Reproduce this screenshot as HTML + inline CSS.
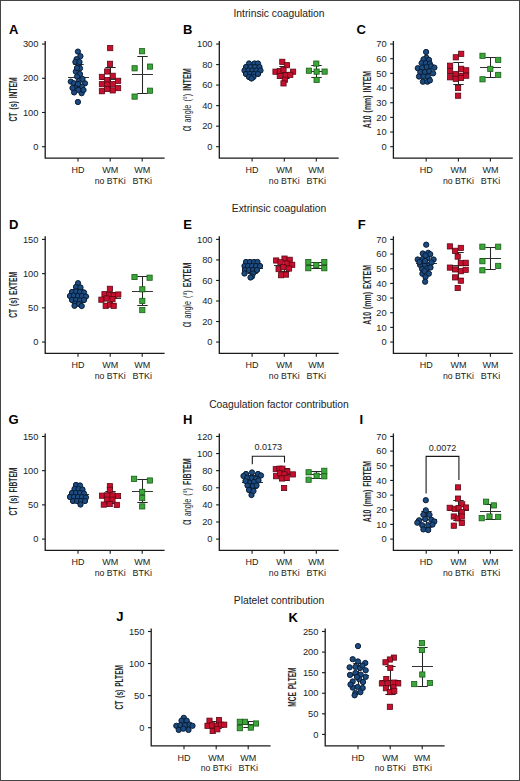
<!DOCTYPE html>
<html><head><meta charset="utf-8"><style>
html,body{margin:0;padding:0;background:#fff;}
svg{display:block;}
text{font-family:"Liberation Sans",sans-serif;fill:#222;}
.tk{font-size:9.3px;}
.xl{font-size:9px;}
.lt{font-size:13px;font-weight:bold;fill:#000;}
.yl{font-size:10.6px;fill:#2a2a2a;}
.yl .b{font-weight:bold;}
.ti{font-size:10.3px;fill:#222;}
.pv{font-size:9px;}
</style></head><body>
<svg width="520" height="781" viewBox="0 0 520 781">
<rect x="0" y="0" width="520" height="781" fill="#fff"/>
<text x="279" y="16.8" class="ti" text-anchor="middle">Intrinsic coagulation</text>
<text x="279" y="211.9" class="ti" text-anchor="middle">Extrinsic coagulation</text>
<text x="279" y="408.0" class="ti" text-anchor="middle">Coagulation factor contribution</text>
<text x="279" y="604.2" class="ti" text-anchor="middle">Platelet contribution</text>
<path d="M45.2 41V158.05H164.6" fill="none" stroke="#1a1a1a" stroke-width="1.3"/>
<path d="M42 146.7H45.2" stroke="#1a1a1a" stroke-width="1.1"/>
<text x="38.4" y="149.9" class="tk" text-anchor="end">0</text>
<path d="M42 112.48H45.2" stroke="#1a1a1a" stroke-width="1.1"/>
<text x="38.4" y="115.68" class="tk" text-anchor="end">100</text>
<path d="M42 78.27H45.2" stroke="#1a1a1a" stroke-width="1.1"/>
<text x="38.4" y="81.47" class="tk" text-anchor="end">200</text>
<path d="M42 44.05H45.2" stroke="#1a1a1a" stroke-width="1.1"/>
<text x="38.4" y="47.25" class="tk" text-anchor="end">300</text>
<path d="M78 158.05V161.45" stroke="#1a1a1a" stroke-width="1.1"/>
<path d="M110.2 158.05V161.45" stroke="#1a1a1a" stroke-width="1.1"/>
<path d="M142.2 158.05V161.45" stroke="#1a1a1a" stroke-width="1.1"/>
<text x="78" y="172.85" class="xl" text-anchor="middle">HD</text>
<text x="110.2" y="172.85" class="xl" text-anchor="middle">WM</text>
<text x="110.2" y="183.55" class="xl" text-anchor="middle" textLength="31" lengthAdjust="spacingAndGlyphs">no BTKi</text>
<text x="142.2" y="172.85" class="xl" text-anchor="middle">WM</text>
<text x="142.2" y="183.55" class="xl" text-anchor="middle">BTKi</text>
<text x="9" y="33.5" class="lt">A</text>
<text transform="translate(16.5 99.4) rotate(-90) scale(0.6421 1)" x="0" y="0" class="yl" text-anchor="middle" style="word-spacing:1.6px"><tspan class="b">CT (s) INTEM</tspan></text>
<path d="M78.5 64.5V90.5M73.3 64.5H83.7M73.3 90.5H83.7" stroke="#262626" stroke-width="1.05" fill="none"/>
<path d="M68 77.5H89" stroke="#333" stroke-width="1.05" fill="none"/>
<path d="M110.5 67.5V90.5M105.3 67.5H115.7M105.3 90.5H115.7" stroke="#262626" stroke-width="1.05" fill="none"/>
<path d="M100 79.5H121" stroke="#333" stroke-width="1.05" fill="none"/>
<path d="M142.5 56.5V93.5M137.3 56.5H147.7M137.3 93.5H147.7" stroke="#262626" stroke-width="1.05" fill="none"/>
<path d="M132 74.5H153" stroke="#333" stroke-width="1.05" fill="none"/>
<g fill="#1b4b80" stroke="#081a30" stroke-width="0.95">
<circle cx="77.9" cy="51.6" r="2.65"/>
<circle cx="80.4" cy="56.2" r="2.65"/>
<circle cx="76.6" cy="59.1" r="2.65"/>
<circle cx="75.4" cy="62" r="2.65"/>
<circle cx="78.7" cy="65" r="2.65"/>
<circle cx="80" cy="68.3" r="2.65"/>
<circle cx="75.8" cy="71.6" r="2.65"/>
<circle cx="80" cy="74.1" r="2.65"/>
<circle cx="77" cy="76.6" r="2.65"/>
<circle cx="70.8" cy="81.6" r="2.65"/>
<circle cx="74.1" cy="83.3" r="2.65"/>
<circle cx="79.1" cy="80.8" r="2.65"/>
<circle cx="85" cy="83.3" r="2.65"/>
<circle cx="76.6" cy="86.6" r="2.65"/>
<circle cx="82" cy="86.6" r="2.65"/>
<circle cx="74.1" cy="92.4" r="2.65"/>
<circle cx="81.6" cy="93.2" r="2.65"/>
<circle cx="78.3" cy="89.9" r="2.65"/>
<circle cx="77.9" cy="102" r="2.65"/>
<circle cx="72.5" cy="88" r="2.65"/>
<circle cx="83.5" cy="90" r="2.65"/>
<circle cx="78" cy="84" r="2.65"/>
<circle cx="79.5" cy="62" r="2.65"/>
<circle cx="77" cy="68" r="2.65"/>
<circle cx="82.5" cy="79" r="2.65"/>
</g>
<g fill="#c8102e" stroke="#5c0814" stroke-width="0.8">
<rect x="107.6" y="45.5" width="5.2" height="5.2"/>
<rect x="107.4" y="61.2" width="5.2" height="5.2"/>
<rect x="104.6" y="68.9" width="5.2" height="5.2"/>
<rect x="99.3" y="74.3" width="5.2" height="5.2"/>
<rect x="110.1" y="73.2" width="5.2" height="5.2"/>
<rect x="104.6" y="77.4" width="5.2" height="5.2"/>
<rect x="115.5" y="78.2" width="5.2" height="5.2"/>
<rect x="99.3" y="81.6" width="5.2" height="5.2"/>
<rect x="104.6" y="82" width="5.2" height="5.2"/>
<rect x="110.1" y="81.6" width="5.2" height="5.2"/>
<rect x="115.5" y="85.5" width="5.2" height="5.2"/>
<rect x="99.3" y="88.6" width="5.2" height="5.2"/>
<rect x="110.1" y="87.8" width="5.2" height="5.2"/>
<rect x="104.6" y="86.4" width="5.2" height="5.2"/>
</g>
<g fill="#3da63a" stroke="#175c17" stroke-width="0.8">
<rect x="139.45" y="48.6" width="5.2" height="5.2"/>
<rect x="132" y="65.7" width="5.2" height="5.2"/>
<rect x="147.4" y="64" width="5.2" height="5.2"/>
<rect x="147.4" y="88.1" width="5.2" height="5.2"/>
<rect x="132" y="94" width="5.2" height="5.2"/>
</g>
<path d="M219.3 41V158.05H338.7" fill="none" stroke="#1a1a1a" stroke-width="1.3"/>
<path d="M216.1 146.7H219.3" stroke="#1a1a1a" stroke-width="1.1"/>
<text x="212.5" y="149.9" class="tk" text-anchor="end">0</text>
<path d="M216.1 126.17H219.3" stroke="#1a1a1a" stroke-width="1.1"/>
<text x="212.5" y="129.37" class="tk" text-anchor="end">20</text>
<path d="M216.1 105.64H219.3" stroke="#1a1a1a" stroke-width="1.1"/>
<text x="212.5" y="108.84" class="tk" text-anchor="end">40</text>
<path d="M216.1 85.11H219.3" stroke="#1a1a1a" stroke-width="1.1"/>
<text x="212.5" y="88.31" class="tk" text-anchor="end">60</text>
<path d="M216.1 64.58H219.3" stroke="#1a1a1a" stroke-width="1.1"/>
<text x="212.5" y="67.78" class="tk" text-anchor="end">80</text>
<path d="M216.1 44.05H219.3" stroke="#1a1a1a" stroke-width="1.1"/>
<text x="212.5" y="47.25" class="tk" text-anchor="end">100</text>
<path d="M252.1 158.05V161.45" stroke="#1a1a1a" stroke-width="1.1"/>
<path d="M284.3 158.05V161.45" stroke="#1a1a1a" stroke-width="1.1"/>
<path d="M316.3 158.05V161.45" stroke="#1a1a1a" stroke-width="1.1"/>
<text x="252.1" y="172.85" class="xl" text-anchor="middle">HD</text>
<text x="284.3" y="172.85" class="xl" text-anchor="middle">WM</text>
<text x="284.3" y="183.55" class="xl" text-anchor="middle" textLength="31" lengthAdjust="spacingAndGlyphs">no BTKi</text>
<text x="316.3" y="172.85" class="xl" text-anchor="middle">WM</text>
<text x="316.3" y="183.55" class="xl" text-anchor="middle">BTKi</text>
<text x="182.9" y="33.5" class="lt">B</text>
<text transform="translate(190.8 99.7) rotate(-90) scale(0.6839 1)" x="0" y="0" class="yl" text-anchor="middle" style="word-spacing:1.6px"><tspan style="font-size:14.31px">α</tspan><tspan> angle (°) </tspan><tspan class="b">INTEM</tspan></text>
<path d="M252.5 65.5V75.5M247.3 65.5H257.7M247.3 75.5H257.7" stroke="#262626" stroke-width="1.05" fill="none"/>
<path d="M242 70.5H263" stroke="#333" stroke-width="1.05" fill="none"/>
<path d="M284.5 66.5V78.5M279.3 66.5H289.7M279.3 78.5H289.7" stroke="#262626" stroke-width="1.05" fill="none"/>
<path d="M274 72.5H295" stroke="#333" stroke-width="1.05" fill="none"/>
<path d="M316.5 65.5V77.5M311.3 65.5H321.7M311.3 77.5H321.7" stroke="#262626" stroke-width="1.05" fill="none"/>
<path d="M306 71.5H327" stroke="#333" stroke-width="1.05" fill="none"/>
<g fill="#1b4b80" stroke="#081a30" stroke-width="0.95">
<circle cx="249" cy="63.5" r="2.65"/>
<circle cx="254.5" cy="63.5" r="2.65"/>
<circle cx="258" cy="63.5" r="2.65"/>
<circle cx="246" cy="67" r="2.65"/>
<circle cx="250.5" cy="67" r="2.65"/>
<circle cx="255" cy="67" r="2.65"/>
<circle cx="259.5" cy="67" r="2.65"/>
<circle cx="244.5" cy="70.5" r="2.65"/>
<circle cx="248.5" cy="70.5" r="2.65"/>
<circle cx="252.5" cy="70.5" r="2.65"/>
<circle cx="256.5" cy="70.5" r="2.65"/>
<circle cx="260.5" cy="70.5" r="2.65"/>
<circle cx="246" cy="74" r="2.65"/>
<circle cx="250" cy="74" r="2.65"/>
<circle cx="254" cy="74" r="2.65"/>
<circle cx="258" cy="74" r="2.65"/>
<circle cx="249" cy="77" r="2.65"/>
<circle cx="253.5" cy="77" r="2.65"/>
<circle cx="251.5" cy="78.5" r="2.65"/>
</g>
<g fill="#c8102e" stroke="#5c0814" stroke-width="0.8">
<rect x="279.7" y="59.2" width="5.2" height="5.2"/>
<rect x="284.3" y="62.6" width="5.2" height="5.2"/>
<rect x="272.9" y="69.1" width="5.2" height="5.2"/>
<rect x="277.2" y="68.5" width="5.2" height="5.2"/>
<rect x="280.9" y="67.2" width="5.2" height="5.2"/>
<rect x="290.5" y="69.1" width="5.2" height="5.2"/>
<rect x="277.2" y="73.4" width="5.2" height="5.2"/>
<rect x="283.4" y="72.8" width="5.2" height="5.2"/>
<rect x="287.7" y="72.2" width="5.2" height="5.2"/>
<rect x="282.2" y="77.1" width="5.2" height="5.2"/>
<rect x="280.9" y="80.8" width="5.2" height="5.2"/>
</g>
<g fill="#3da63a" stroke="#175c17" stroke-width="0.8">
<rect x="313.7" y="61" width="5.2" height="5.2"/>
<rect x="306.3" y="68.1" width="5.2" height="5.2"/>
<rect x="314" y="69" width="5.2" height="5.2"/>
<rect x="322" y="69" width="5.2" height="5.2"/>
<rect x="314" y="77.3" width="5.2" height="5.2"/>
</g>
<path d="M393.4 41V158.05H512.8" fill="none" stroke="#1a1a1a" stroke-width="1.3"/>
<path d="M390.2 146.7H393.4" stroke="#1a1a1a" stroke-width="1.1"/>
<text x="386.6" y="149.9" class="tk" text-anchor="end">0</text>
<path d="M390.2 132.04H393.4" stroke="#1a1a1a" stroke-width="1.1"/>
<text x="386.6" y="135.24" class="tk" text-anchor="end">10</text>
<path d="M390.2 117.37H393.4" stroke="#1a1a1a" stroke-width="1.1"/>
<text x="386.6" y="120.57" class="tk" text-anchor="end">20</text>
<path d="M390.2 102.71H393.4" stroke="#1a1a1a" stroke-width="1.1"/>
<text x="386.6" y="105.91" class="tk" text-anchor="end">30</text>
<path d="M390.2 88.04H393.4" stroke="#1a1a1a" stroke-width="1.1"/>
<text x="386.6" y="91.24" class="tk" text-anchor="end">40</text>
<path d="M390.2 73.38H393.4" stroke="#1a1a1a" stroke-width="1.1"/>
<text x="386.6" y="76.58" class="tk" text-anchor="end">50</text>
<path d="M390.2 58.71H393.4" stroke="#1a1a1a" stroke-width="1.1"/>
<text x="386.6" y="61.91" class="tk" text-anchor="end">60</text>
<path d="M390.2 44.05H393.4" stroke="#1a1a1a" stroke-width="1.1"/>
<text x="386.6" y="47.25" class="tk" text-anchor="end">70</text>
<path d="M426.2 158.05V161.45" stroke="#1a1a1a" stroke-width="1.1"/>
<path d="M458.4 158.05V161.45" stroke="#1a1a1a" stroke-width="1.1"/>
<path d="M490.4 158.05V161.45" stroke="#1a1a1a" stroke-width="1.1"/>
<text x="426.2" y="172.85" class="xl" text-anchor="middle">HD</text>
<text x="458.4" y="172.85" class="xl" text-anchor="middle">WM</text>
<text x="458.4" y="183.55" class="xl" text-anchor="middle" textLength="31" lengthAdjust="spacingAndGlyphs">no BTKi</text>
<text x="490.4" y="172.85" class="xl" text-anchor="middle">WM</text>
<text x="490.4" y="183.55" class="xl" text-anchor="middle">BTKi</text>
<text x="356.6" y="33.5" class="lt">C</text>
<text transform="translate(370.9 99.5) rotate(-90) scale(0.6555 1)" x="0" y="0" class="yl" text-anchor="middle" style="word-spacing:1.6px"><tspan class="b">A10 (mm) INTEM</tspan></text>
<path d="M426.5 60.5V77.5M421.3 60.5H431.7M421.3 77.5H431.7" stroke="#262626" stroke-width="1.05" fill="none"/>
<path d="M416 68.5H437" stroke="#333" stroke-width="1.05" fill="none"/>
<path d="M458.5 62.5V84.5M453.3 62.5H463.7M453.3 84.5H463.7" stroke="#262626" stroke-width="1.05" fill="none"/>
<path d="M448 73.5H469" stroke="#333" stroke-width="1.05" fill="none"/>
<path d="M490.5 57.5V77.5M485.3 57.5H495.7M485.3 77.5H495.7" stroke="#262626" stroke-width="1.05" fill="none"/>
<path d="M480 67.5H501" stroke="#333" stroke-width="1.05" fill="none"/>
<g fill="#1b4b80" stroke="#081a30" stroke-width="0.95">
<circle cx="426.1" cy="52" r="2.65"/>
<circle cx="426.4" cy="57.7" r="2.65"/>
<circle cx="423.5" cy="59.3" r="2.65"/>
<circle cx="429" cy="59.9" r="2.65"/>
<circle cx="421.6" cy="63.1" r="2.65"/>
<circle cx="425.8" cy="63.1" r="2.65"/>
<circle cx="429.9" cy="63.8" r="2.65"/>
<circle cx="417.8" cy="68.2" r="2.65"/>
<circle cx="422.2" cy="67.6" r="2.65"/>
<circle cx="426.7" cy="67" r="2.65"/>
<circle cx="431.2" cy="66.3" r="2.65"/>
<circle cx="434.4" cy="67.6" r="2.65"/>
<circle cx="420.3" cy="72.1" r="2.65"/>
<circle cx="424.8" cy="72.1" r="2.65"/>
<circle cx="429.3" cy="71.4" r="2.65"/>
<circle cx="433.1" cy="73.3" r="2.65"/>
<circle cx="419" cy="76.5" r="2.65"/>
<circle cx="423.5" cy="76.5" r="2.65"/>
<circle cx="428" cy="76.5" r="2.65"/>
<circle cx="422.9" cy="81.7" r="2.65"/>
<circle cx="427.4" cy="81.7" r="2.65"/>
<circle cx="429.9" cy="80.4" r="2.65"/>
</g>
<g fill="#c8102e" stroke="#5c0814" stroke-width="0.8">
<rect x="458.6" y="51.2" width="5.2" height="5.2"/>
<rect x="453.2" y="54.7" width="5.2" height="5.2"/>
<rect x="447.5" y="63.1" width="5.2" height="5.2"/>
<rect x="447.5" y="68.5" width="5.2" height="5.2"/>
<rect x="447.5" y="74.7" width="5.2" height="5.2"/>
<rect x="458.6" y="66.2" width="5.2" height="5.2"/>
<rect x="463.6" y="67.7" width="5.2" height="5.2"/>
<rect x="453.2" y="71.6" width="5.2" height="5.2"/>
<rect x="458.6" y="73.1" width="5.2" height="5.2"/>
<rect x="463.6" y="73.1" width="5.2" height="5.2"/>
<rect x="453.2" y="76.2" width="5.2" height="5.2"/>
<rect x="458.2" y="75.4" width="5.2" height="5.2"/>
<rect x="455.5" y="85.4" width="5.2" height="5.2"/>
<rect x="455.5" y="93.1" width="5.2" height="5.2"/>
</g>
<g fill="#3da63a" stroke="#175c17" stroke-width="0.8">
<rect x="479.9" y="53.2" width="5.2" height="5.2"/>
<rect x="495.6" y="57.3" width="5.2" height="5.2"/>
<rect x="487.7" y="66.3" width="5.2" height="5.2"/>
<rect x="495.6" y="72.3" width="5.2" height="5.2"/>
<rect x="479.9" y="76.7" width="5.2" height="5.2"/>
</g>
<path d="M45.2 236.35V353.4H164.6" fill="none" stroke="#1a1a1a" stroke-width="1.3"/>
<path d="M42 342.05H45.2" stroke="#1a1a1a" stroke-width="1.1"/>
<text x="38.4" y="345.25" class="tk" text-anchor="end">0</text>
<path d="M42 307.83H45.2" stroke="#1a1a1a" stroke-width="1.1"/>
<text x="38.4" y="311.03" class="tk" text-anchor="end">50</text>
<path d="M42 273.62H45.2" stroke="#1a1a1a" stroke-width="1.1"/>
<text x="38.4" y="276.82" class="tk" text-anchor="end">100</text>
<path d="M42 239.4H45.2" stroke="#1a1a1a" stroke-width="1.1"/>
<text x="38.4" y="242.6" class="tk" text-anchor="end">150</text>
<path d="M78 353.4V356.8" stroke="#1a1a1a" stroke-width="1.1"/>
<path d="M110.2 353.4V356.8" stroke="#1a1a1a" stroke-width="1.1"/>
<path d="M142.2 353.4V356.8" stroke="#1a1a1a" stroke-width="1.1"/>
<text x="78" y="368.2" class="xl" text-anchor="middle">HD</text>
<text x="110.2" y="368.2" class="xl" text-anchor="middle">WM</text>
<text x="110.2" y="378.9" class="xl" text-anchor="middle" textLength="31" lengthAdjust="spacingAndGlyphs">no BTKi</text>
<text x="142.2" y="368.2" class="xl" text-anchor="middle">WM</text>
<text x="142.2" y="378.9" class="xl" text-anchor="middle">BTKi</text>
<text x="9" y="228.8" class="lt">D</text>
<text transform="translate(16.6 294.85) rotate(-90) scale(0.6342 1)" x="0" y="0" class="yl" text-anchor="middle" style="word-spacing:1.6px"><tspan class="b">CT (s) EXTEM</tspan></text>
<path d="M78.5 289.5V302.5M73.3 289.5H83.7M73.3 302.5H83.7" stroke="#262626" stroke-width="1.05" fill="none"/>
<path d="M68 296.5H89" stroke="#333" stroke-width="1.05" fill="none"/>
<path d="M110.5 292.5V303.5M105.3 292.5H115.7M105.3 303.5H115.7" stroke="#262626" stroke-width="1.05" fill="none"/>
<path d="M100 298.5H121" stroke="#333" stroke-width="1.05" fill="none"/>
<path d="M142.5 276.5V305.5M137.3 276.5H147.7M137.3 305.5H147.7" stroke="#262626" stroke-width="1.05" fill="none"/>
<path d="M132 291.5H153" stroke="#333" stroke-width="1.05" fill="none"/>
<g fill="#1b4b80" stroke="#081a30" stroke-width="0.95">
<circle cx="78" cy="283.2" r="2.65"/>
<circle cx="76" cy="287" r="2.65"/>
<circle cx="80.5" cy="287.5" r="2.65"/>
<circle cx="72" cy="292" r="2.65"/>
<circle cx="76" cy="291.5" r="2.65"/>
<circle cx="80" cy="292" r="2.65"/>
<circle cx="84" cy="292.5" r="2.65"/>
<circle cx="70" cy="296" r="2.65"/>
<circle cx="74" cy="295.5" r="2.65"/>
<circle cx="78" cy="296" r="2.65"/>
<circle cx="82" cy="296" r="2.65"/>
<circle cx="86" cy="296.5" r="2.65"/>
<circle cx="72" cy="300" r="2.65"/>
<circle cx="76" cy="300" r="2.65"/>
<circle cx="80" cy="300.5" r="2.65"/>
<circle cx="84" cy="300" r="2.65"/>
<circle cx="75" cy="303.5" r="2.65"/>
<circle cx="79" cy="304" r="2.65"/>
<circle cx="74.5" cy="305.8" r="2.65"/>
<circle cx="81.7" cy="306" r="2.65"/>
</g>
<g fill="#c8102e" stroke="#5c0814" stroke-width="0.8">
<rect x="107.3" y="286.2" width="5.2" height="5.2"/>
<rect x="101.9" y="291.6" width="5.2" height="5.2"/>
<rect x="106.8" y="292.2" width="5.2" height="5.2"/>
<rect x="111.1" y="292.8" width="5.2" height="5.2"/>
<rect x="115.7" y="291.9" width="5.2" height="5.2"/>
<rect x="98.8" y="297.1" width="5.2" height="5.2"/>
<rect x="104" y="295.9" width="5.2" height="5.2"/>
<rect x="109.9" y="296.5" width="5.2" height="5.2"/>
<rect x="103.1" y="303.2" width="5.2" height="5.2"/>
<rect x="107.4" y="302" width="5.2" height="5.2"/>
<rect x="111.1" y="303.2" width="5.2" height="5.2"/>
</g>
<g fill="#3da63a" stroke="#175c17" stroke-width="0.8">
<rect x="131.9" y="274.4" width="5.2" height="5.2"/>
<rect x="147" y="275.1" width="5.2" height="5.2"/>
<rect x="139.7" y="286.7" width="5.2" height="5.2"/>
<rect x="139.7" y="298.3" width="5.2" height="5.2"/>
<rect x="139.7" y="307.5" width="5.2" height="5.2"/>
</g>
<path d="M219.3 236.35V353.4H338.7" fill="none" stroke="#1a1a1a" stroke-width="1.3"/>
<path d="M216.1 342.05H219.3" stroke="#1a1a1a" stroke-width="1.1"/>
<text x="212.5" y="345.25" class="tk" text-anchor="end">0</text>
<path d="M216.1 321.52H219.3" stroke="#1a1a1a" stroke-width="1.1"/>
<text x="212.5" y="324.72" class="tk" text-anchor="end">20</text>
<path d="M216.1 300.99H219.3" stroke="#1a1a1a" stroke-width="1.1"/>
<text x="212.5" y="304.19" class="tk" text-anchor="end">40</text>
<path d="M216.1 280.46H219.3" stroke="#1a1a1a" stroke-width="1.1"/>
<text x="212.5" y="283.66" class="tk" text-anchor="end">60</text>
<path d="M216.1 259.93H219.3" stroke="#1a1a1a" stroke-width="1.1"/>
<text x="212.5" y="263.13" class="tk" text-anchor="end">80</text>
<path d="M216.1 239.4H219.3" stroke="#1a1a1a" stroke-width="1.1"/>
<text x="212.5" y="242.6" class="tk" text-anchor="end">100</text>
<path d="M252.1 353.4V356.8" stroke="#1a1a1a" stroke-width="1.1"/>
<path d="M284.3 353.4V356.8" stroke="#1a1a1a" stroke-width="1.1"/>
<path d="M316.3 353.4V356.8" stroke="#1a1a1a" stroke-width="1.1"/>
<text x="252.1" y="368.2" class="xl" text-anchor="middle">HD</text>
<text x="284.3" y="368.2" class="xl" text-anchor="middle">WM</text>
<text x="284.3" y="378.9" class="xl" text-anchor="middle" textLength="31" lengthAdjust="spacingAndGlyphs">no BTKi</text>
<text x="316.3" y="368.2" class="xl" text-anchor="middle">WM</text>
<text x="316.3" y="378.9" class="xl" text-anchor="middle">BTKi</text>
<text x="183.3" y="228.8" class="lt">E</text>
<text transform="translate(191 294.95) rotate(-90) scale(0.6764 1)" x="0" y="0" class="yl" text-anchor="middle" style="word-spacing:1.6px"><tspan style="font-size:14.31px">α</tspan><tspan> angle (°) </tspan><tspan class="b">EXTEM</tspan></text>
<path d="M252.5 263.5V273.5M247.3 263.5H257.7M247.3 273.5H257.7" stroke="#262626" stroke-width="1.05" fill="none"/>
<path d="M242 268.5H263" stroke="#333" stroke-width="1.05" fill="none"/>
<path d="M284.5 260.5V271.5M279.3 260.5H289.7M279.3 271.5H289.7" stroke="#262626" stroke-width="1.05" fill="none"/>
<path d="M274 265.5H295" stroke="#333" stroke-width="1.05" fill="none"/>
<path d="M316.5 262.5V268.5M311.3 262.5H321.7M311.3 268.5H321.7" stroke="#262626" stroke-width="1.05" fill="none"/>
<path d="M306 265.5H327" stroke="#333" stroke-width="1.05" fill="none"/>
<g fill="#1b4b80" stroke="#081a30" stroke-width="0.95">
<circle cx="246" cy="262" r="2.65"/>
<circle cx="250" cy="262" r="2.65"/>
<circle cx="254" cy="262" r="2.65"/>
<circle cx="257.5" cy="262" r="2.65"/>
<circle cx="244.5" cy="266" r="2.65"/>
<circle cx="248" cy="266" r="2.65"/>
<circle cx="252" cy="266" r="2.65"/>
<circle cx="256" cy="266" r="2.65"/>
<circle cx="260" cy="266" r="2.65"/>
<circle cx="245" cy="270" r="2.65"/>
<circle cx="249" cy="270" r="2.65"/>
<circle cx="253" cy="270" r="2.65"/>
<circle cx="257" cy="270" r="2.65"/>
<circle cx="244.5" cy="273.5" r="2.65"/>
<circle cx="253" cy="273.5" r="2.65"/>
<circle cx="252" cy="276.5" r="2.65"/>
<circle cx="250.5" cy="277.5" r="2.65"/>
</g>
<g fill="#c8102e" stroke="#5c0814" stroke-width="0.8">
<rect x="281.9" y="256" width="5.2" height="5.2"/>
<rect x="273.6" y="257.9" width="5.2" height="5.2"/>
<rect x="277.9" y="259.7" width="5.2" height="5.2"/>
<rect x="287.1" y="257.2" width="5.2" height="5.2"/>
<rect x="284" y="260.9" width="5.2" height="5.2"/>
<rect x="289.6" y="262.2" width="5.2" height="5.2"/>
<rect x="276" y="266.5" width="5.2" height="5.2"/>
<rect x="280.6" y="264.6" width="5.2" height="5.2"/>
<rect x="286.5" y="265.9" width="5.2" height="5.2"/>
<rect x="278.5" y="272.6" width="5.2" height="5.2"/>
<rect x="283.4" y="272" width="5.2" height="5.2"/>
</g>
<g fill="#3da63a" stroke="#175c17" stroke-width="0.8">
<rect x="305.7" y="259.4" width="5.2" height="5.2"/>
<rect x="305.7" y="265.6" width="5.2" height="5.2"/>
<rect x="321.7" y="259.4" width="5.2" height="5.2"/>
<rect x="321.7" y="265.6" width="5.2" height="5.2"/>
<rect x="313.7" y="262.5" width="5.2" height="5.2"/>
</g>
<path d="M393.4 236.35V353.4H512.8" fill="none" stroke="#1a1a1a" stroke-width="1.3"/>
<path d="M390.2 342.05H393.4" stroke="#1a1a1a" stroke-width="1.1"/>
<text x="386.6" y="345.25" class="tk" text-anchor="end">0</text>
<path d="M390.2 327.39H393.4" stroke="#1a1a1a" stroke-width="1.1"/>
<text x="386.6" y="330.59" class="tk" text-anchor="end">10</text>
<path d="M390.2 312.72H393.4" stroke="#1a1a1a" stroke-width="1.1"/>
<text x="386.6" y="315.92" class="tk" text-anchor="end">20</text>
<path d="M390.2 298.06H393.4" stroke="#1a1a1a" stroke-width="1.1"/>
<text x="386.6" y="301.26" class="tk" text-anchor="end">30</text>
<path d="M390.2 283.39H393.4" stroke="#1a1a1a" stroke-width="1.1"/>
<text x="386.6" y="286.59" class="tk" text-anchor="end">40</text>
<path d="M390.2 268.73H393.4" stroke="#1a1a1a" stroke-width="1.1"/>
<text x="386.6" y="271.93" class="tk" text-anchor="end">50</text>
<path d="M390.2 254.06H393.4" stroke="#1a1a1a" stroke-width="1.1"/>
<text x="386.6" y="257.26" class="tk" text-anchor="end">60</text>
<path d="M390.2 239.4H393.4" stroke="#1a1a1a" stroke-width="1.1"/>
<text x="386.6" y="242.6" class="tk" text-anchor="end">70</text>
<path d="M426.2 353.4V356.8" stroke="#1a1a1a" stroke-width="1.1"/>
<path d="M458.4 353.4V356.8" stroke="#1a1a1a" stroke-width="1.1"/>
<path d="M490.4 353.4V356.8" stroke="#1a1a1a" stroke-width="1.1"/>
<text x="426.2" y="368.2" class="xl" text-anchor="middle">HD</text>
<text x="458.4" y="368.2" class="xl" text-anchor="middle">WM</text>
<text x="458.4" y="378.9" class="xl" text-anchor="middle" textLength="31" lengthAdjust="spacingAndGlyphs">no BTKi</text>
<text x="490.4" y="368.2" class="xl" text-anchor="middle">WM</text>
<text x="490.4" y="378.9" class="xl" text-anchor="middle">BTKi</text>
<text x="357.8" y="228.8" class="lt">F</text>
<text transform="translate(370.9 294.9) rotate(-90) scale(0.6574 1)" x="0" y="0" class="yl" text-anchor="middle" style="word-spacing:1.6px"><tspan class="b">A10 (mm) EXTEM</tspan></text>
<path d="M426.5 254.5V272.5M421.3 254.5H431.7M421.3 272.5H431.7" stroke="#262626" stroke-width="1.05" fill="none"/>
<path d="M416 263.5H437" stroke="#333" stroke-width="1.05" fill="none"/>
<path d="M458.5 252.5V278.5M453.3 252.5H463.7M453.3 278.5H463.7" stroke="#262626" stroke-width="1.05" fill="none"/>
<path d="M448 265.5H469" stroke="#333" stroke-width="1.05" fill="none"/>
<path d="M490.5 247.5V269.5M485.3 247.5H495.7M485.3 269.5H495.7" stroke="#262626" stroke-width="1.05" fill="none"/>
<path d="M480 258.5H501" stroke="#333" stroke-width="1.05" fill="none"/>
<g fill="#1b4b80" stroke="#081a30" stroke-width="0.95">
<circle cx="426.2" cy="244.7" r="2.65"/>
<circle cx="422.8" cy="253.5" r="2.65"/>
<circle cx="428.2" cy="252.8" r="2.65"/>
<circle cx="430.2" cy="254.2" r="2.65"/>
<circle cx="417.7" cy="259.5" r="2.65"/>
<circle cx="422.8" cy="258.9" r="2.65"/>
<circle cx="427.5" cy="258.2" r="2.65"/>
<circle cx="433.6" cy="259.5" r="2.65"/>
<circle cx="420.1" cy="264.9" r="2.65"/>
<circle cx="424.8" cy="264.2" r="2.65"/>
<circle cx="429.5" cy="264.9" r="2.65"/>
<circle cx="422.1" cy="269" r="2.65"/>
<circle cx="427.5" cy="268.3" r="2.65"/>
<circle cx="422.4" cy="273.7" r="2.65"/>
<circle cx="428.8" cy="273.7" r="2.65"/>
<circle cx="425.5" cy="277" r="2.65"/>
<circle cx="425.1" cy="281.7" r="2.65"/>
<circle cx="425.5" cy="255.5" r="2.65"/>
<circle cx="419.5" cy="262" r="2.65"/>
<circle cx="431.5" cy="262.5" r="2.65"/>
<circle cx="425" cy="261" r="2.65"/>
<circle cx="424.5" cy="271" r="2.65"/>
<circle cx="430.5" cy="267.5" r="2.65"/>
</g>
<g fill="#c8102e" stroke="#5c0814" stroke-width="0.8">
<rect x="447.3" y="243.8" width="5.2" height="5.2"/>
<rect x="458.2" y="245.3" width="5.2" height="5.2"/>
<rect x="452.5" y="248.2" width="5.2" height="5.2"/>
<rect x="455.1" y="254" width="5.2" height="5.2"/>
<rect x="458.2" y="260.6" width="5.2" height="5.2"/>
<rect x="463.1" y="260.2" width="5.2" height="5.2"/>
<rect x="447.3" y="265" width="5.2" height="5.2"/>
<rect x="452.5" y="266.8" width="5.2" height="5.2"/>
<rect x="458.2" y="268.6" width="5.2" height="5.2"/>
<rect x="463.1" y="267.2" width="5.2" height="5.2"/>
<rect x="452.5" y="274.8" width="5.2" height="5.2"/>
<rect x="458.2" y="278.1" width="5.2" height="5.2"/>
<rect x="455.1" y="285.4" width="5.2" height="5.2"/>
</g>
<g fill="#3da63a" stroke="#175c17" stroke-width="0.8">
<rect x="479.8" y="244.1" width="5.2" height="5.2"/>
<rect x="495.6" y="244.1" width="5.2" height="5.2"/>
<rect x="479.8" y="258.6" width="5.2" height="5.2"/>
<rect x="495.6" y="263.3" width="5.2" height="5.2"/>
<rect x="479.8" y="267.7" width="5.2" height="5.2"/>
</g>
<path d="M45.2 433.4V550.45H164.6" fill="none" stroke="#1a1a1a" stroke-width="1.3"/>
<path d="M42 539.1H45.2" stroke="#1a1a1a" stroke-width="1.1"/>
<text x="38.4" y="542.3" class="tk" text-anchor="end">0</text>
<path d="M42 504.88H45.2" stroke="#1a1a1a" stroke-width="1.1"/>
<text x="38.4" y="508.08" class="tk" text-anchor="end">50</text>
<path d="M42 470.67H45.2" stroke="#1a1a1a" stroke-width="1.1"/>
<text x="38.4" y="473.87" class="tk" text-anchor="end">100</text>
<path d="M42 436.45H45.2" stroke="#1a1a1a" stroke-width="1.1"/>
<text x="38.4" y="439.65" class="tk" text-anchor="end">150</text>
<path d="M78 550.45V553.85" stroke="#1a1a1a" stroke-width="1.1"/>
<path d="M110.2 550.45V553.85" stroke="#1a1a1a" stroke-width="1.1"/>
<path d="M142.2 550.45V553.85" stroke="#1a1a1a" stroke-width="1.1"/>
<text x="78" y="565.25" class="xl" text-anchor="middle">HD</text>
<text x="110.2" y="565.25" class="xl" text-anchor="middle">WM</text>
<text x="110.2" y="575.95" class="xl" text-anchor="middle" textLength="31" lengthAdjust="spacingAndGlyphs">no BTKi</text>
<text x="142.2" y="565.25" class="xl" text-anchor="middle">WM</text>
<text x="142.2" y="575.95" class="xl" text-anchor="middle">BTKi</text>
<text x="8.6" y="424.3" class="lt">G</text>
<text transform="translate(16.6 491.5) rotate(-90) scale(0.6347 1)" x="0" y="0" class="yl" text-anchor="middle" style="word-spacing:1.6px"><tspan class="b">CT (s) FIBTEM</tspan></text>
<path d="M78.5 489.5V500.5M73.3 489.5H83.7M73.3 500.5H83.7" stroke="#262626" stroke-width="1.05" fill="none"/>
<path d="M68 494.5H89" stroke="#333" stroke-width="1.05" fill="none"/>
<path d="M110.5 491.5V503.5M105.3 491.5H115.7M105.3 503.5H115.7" stroke="#262626" stroke-width="1.05" fill="none"/>
<path d="M100 497.5H121" stroke="#333" stroke-width="1.05" fill="none"/>
<path d="M142.5 479.5V502.5M137.3 479.5H147.7M137.3 502.5H147.7" stroke="#262626" stroke-width="1.05" fill="none"/>
<path d="M132 491.5H153" stroke="#333" stroke-width="1.05" fill="none"/>
<g fill="#1b4b80" stroke="#081a30" stroke-width="0.95">
<circle cx="76" cy="485" r="2.65"/>
<circle cx="80" cy="485.5" r="2.65"/>
<circle cx="74.5" cy="489" r="2.65"/>
<circle cx="78.5" cy="489" r="2.65"/>
<circle cx="82.5" cy="489.5" r="2.65"/>
<circle cx="72" cy="493" r="2.65"/>
<circle cx="76" cy="493" r="2.65"/>
<circle cx="80" cy="493" r="2.65"/>
<circle cx="84" cy="493.5" r="2.65"/>
<circle cx="70" cy="497" r="2.65"/>
<circle cx="74" cy="497" r="2.65"/>
<circle cx="78" cy="497" r="2.65"/>
<circle cx="82" cy="497" r="2.65"/>
<circle cx="86" cy="497.5" r="2.65"/>
<circle cx="73" cy="501" r="2.65"/>
<circle cx="77" cy="501" r="2.65"/>
<circle cx="81" cy="501" r="2.65"/>
<circle cx="85" cy="501" r="2.65"/>
<circle cx="80.5" cy="504.5" r="2.65"/>
</g>
<g fill="#c8102e" stroke="#5c0814" stroke-width="0.8">
<rect x="107.3" y="483.6" width="5.2" height="5.2"/>
<rect x="107.3" y="487.2" width="5.2" height="5.2"/>
<rect x="99.4" y="493.1" width="5.2" height="5.2"/>
<rect x="104.3" y="492.8" width="5.2" height="5.2"/>
<rect x="109.9" y="492.8" width="5.2" height="5.2"/>
<rect x="115.4" y="493.4" width="5.2" height="5.2"/>
<rect x="104.3" y="497.1" width="5.2" height="5.2"/>
<rect x="109.9" y="497.1" width="5.2" height="5.2"/>
<rect x="101.2" y="502" width="5.2" height="5.2"/>
<rect x="107.1" y="501.4" width="5.2" height="5.2"/>
<rect x="114.2" y="502.3" width="5.2" height="5.2"/>
</g>
<g fill="#3da63a" stroke="#175c17" stroke-width="0.8">
<rect x="131.5" y="476.2" width="5.2" height="5.2"/>
<rect x="147.3" y="477.9" width="5.2" height="5.2"/>
<rect x="139.6" y="489.3" width="5.2" height="5.2"/>
<rect x="139.6" y="495.4" width="5.2" height="5.2"/>
<rect x="139.6" y="503.8" width="5.2" height="5.2"/>
</g>
<path d="M219.3 433.4V550.45H338.7" fill="none" stroke="#1a1a1a" stroke-width="1.3"/>
<path d="M216.1 539.1H219.3" stroke="#1a1a1a" stroke-width="1.1"/>
<text x="212.5" y="542.3" class="tk" text-anchor="end">0</text>
<path d="M216.1 521.99H219.3" stroke="#1a1a1a" stroke-width="1.1"/>
<text x="212.5" y="525.19" class="tk" text-anchor="end">20</text>
<path d="M216.1 504.88H219.3" stroke="#1a1a1a" stroke-width="1.1"/>
<text x="212.5" y="508.08" class="tk" text-anchor="end">40</text>
<path d="M216.1 487.77H219.3" stroke="#1a1a1a" stroke-width="1.1"/>
<text x="212.5" y="490.97" class="tk" text-anchor="end">60</text>
<path d="M216.1 470.67H219.3" stroke="#1a1a1a" stroke-width="1.1"/>
<text x="212.5" y="473.87" class="tk" text-anchor="end">80</text>
<path d="M216.1 453.56H219.3" stroke="#1a1a1a" stroke-width="1.1"/>
<text x="212.5" y="456.76" class="tk" text-anchor="end">100</text>
<path d="M216.1 436.45H219.3" stroke="#1a1a1a" stroke-width="1.1"/>
<text x="212.5" y="439.65" class="tk" text-anchor="end">120</text>
<path d="M252.1 550.45V553.85" stroke="#1a1a1a" stroke-width="1.1"/>
<path d="M284.3 550.45V553.85" stroke="#1a1a1a" stroke-width="1.1"/>
<path d="M316.3 550.45V553.85" stroke="#1a1a1a" stroke-width="1.1"/>
<text x="252.1" y="565.25" class="xl" text-anchor="middle">HD</text>
<text x="284.3" y="565.25" class="xl" text-anchor="middle">WM</text>
<text x="284.3" y="575.95" class="xl" text-anchor="middle" textLength="31" lengthAdjust="spacingAndGlyphs">no BTKi</text>
<text x="316.3" y="565.25" class="xl" text-anchor="middle">WM</text>
<text x="316.3" y="575.95" class="xl" text-anchor="middle">BTKi</text>
<text x="182.9" y="424.3" class="lt">H</text>
<text transform="translate(191.3 491.6) rotate(-90) scale(0.6776 1)" x="0" y="0" class="yl" text-anchor="middle" style="word-spacing:1.6px"><tspan style="font-size:14.31px">α</tspan><tspan> angle (°) </tspan><tspan class="b">FIBTEM</tspan></text>
<path d="M252.5 475.5V488.5M247.3 475.5H257.7M247.3 488.5H257.7" stroke="#262626" stroke-width="1.05" fill="none"/>
<path d="M242 482.5H263" stroke="#333" stroke-width="1.05" fill="none"/>
<path d="M284.5 468.5V480.5M279.3 468.5H289.7M279.3 480.5H289.7" stroke="#262626" stroke-width="1.05" fill="none"/>
<path d="M274 474.5H295" stroke="#333" stroke-width="1.05" fill="none"/>
<path d="M316.5 471.5V478.5M311.3 471.5H321.7M311.3 478.5H321.7" stroke="#262626" stroke-width="1.05" fill="none"/>
<path d="M306 474.5H327" stroke="#333" stroke-width="1.05" fill="none"/>
<g fill="#1b4b80" stroke="#081a30" stroke-width="0.95">
<circle cx="252" cy="472.5" r="2.65"/>
<circle cx="246" cy="474" r="2.65"/>
<circle cx="258" cy="474" r="2.65"/>
<circle cx="243.5" cy="476" r="2.65"/>
<circle cx="261" cy="475.5" r="2.65"/>
<circle cx="247" cy="478" r="2.65"/>
<circle cx="252" cy="478" r="2.65"/>
<circle cx="256" cy="478.5" r="2.65"/>
<circle cx="249" cy="482.5" r="2.65"/>
<circle cx="254" cy="482" r="2.65"/>
<circle cx="250.5" cy="486.5" r="2.65"/>
<circle cx="253" cy="486" r="2.65"/>
<circle cx="251" cy="490.5" r="2.65"/>
<circle cx="251.5" cy="495" r="2.65"/>
<circle cx="245.5" cy="481" r="2.65"/>
<circle cx="258.5" cy="480.5" r="2.65"/>
<circle cx="247.5" cy="485.5" r="2.65"/>
<circle cx="256.5" cy="485.5" r="2.65"/>
<circle cx="249" cy="490" r="2.65"/>
<circle cx="253.5" cy="491" r="2.65"/>
</g>
<g fill="#c8102e" stroke="#5c0814" stroke-width="0.8">
<rect x="273.2" y="466.6" width="5.2" height="5.2"/>
<rect x="276.9" y="466.1" width="5.2" height="5.2"/>
<rect x="279.8" y="466.1" width="5.2" height="5.2"/>
<rect x="284.7" y="468.9" width="5.2" height="5.2"/>
<rect x="290.2" y="471.8" width="5.2" height="5.2"/>
<rect x="273.5" y="473.6" width="5.2" height="5.2"/>
<rect x="277.5" y="470.7" width="5.2" height="5.2"/>
<rect x="281.8" y="471.8" width="5.2" height="5.2"/>
<rect x="279.5" y="475.9" width="5.2" height="5.2"/>
<rect x="284.1" y="475.3" width="5.2" height="5.2"/>
<rect x="281.5" y="485.4" width="5.2" height="5.2"/>
</g>
<g fill="#3da63a" stroke="#175c17" stroke-width="0.8">
<rect x="306" y="469.7" width="5.2" height="5.2"/>
<rect x="306" y="477.1" width="5.2" height="5.2"/>
<rect x="321.7" y="468.2" width="5.2" height="5.2"/>
<rect x="321.7" y="473.7" width="5.2" height="5.2"/>
<rect x="314" y="473.1" width="5.2" height="5.2"/>
</g>
<path d="M252.3 464.2V456.2H284.5V462.4" fill="none" stroke="#1a1a1a" stroke-width="1.1"/>
<text x="268.2" y="450.3" class="pv" text-anchor="middle">0.0173</text>
<path d="M393.4 433.4V550.45H512.8" fill="none" stroke="#1a1a1a" stroke-width="1.3"/>
<path d="M390.2 539.1H393.4" stroke="#1a1a1a" stroke-width="1.1"/>
<text x="386.6" y="542.3" class="tk" text-anchor="end">0</text>
<path d="M390.2 524.44H393.4" stroke="#1a1a1a" stroke-width="1.1"/>
<text x="386.6" y="527.64" class="tk" text-anchor="end">10</text>
<path d="M390.2 509.77H393.4" stroke="#1a1a1a" stroke-width="1.1"/>
<text x="386.6" y="512.97" class="tk" text-anchor="end">20</text>
<path d="M390.2 495.11H393.4" stroke="#1a1a1a" stroke-width="1.1"/>
<text x="386.6" y="498.31" class="tk" text-anchor="end">30</text>
<path d="M390.2 480.44H393.4" stroke="#1a1a1a" stroke-width="1.1"/>
<text x="386.6" y="483.64" class="tk" text-anchor="end">40</text>
<path d="M390.2 465.78H393.4" stroke="#1a1a1a" stroke-width="1.1"/>
<text x="386.6" y="468.98" class="tk" text-anchor="end">50</text>
<path d="M390.2 451.11H393.4" stroke="#1a1a1a" stroke-width="1.1"/>
<text x="386.6" y="454.31" class="tk" text-anchor="end">60</text>
<path d="M390.2 436.45H393.4" stroke="#1a1a1a" stroke-width="1.1"/>
<text x="386.6" y="439.65" class="tk" text-anchor="end">70</text>
<path d="M426.2 550.45V553.85" stroke="#1a1a1a" stroke-width="1.1"/>
<path d="M458.4 550.45V553.85" stroke="#1a1a1a" stroke-width="1.1"/>
<path d="M490.4 550.45V553.85" stroke="#1a1a1a" stroke-width="1.1"/>
<text x="426.2" y="565.25" class="xl" text-anchor="middle">HD</text>
<text x="458.4" y="565.25" class="xl" text-anchor="middle">WM</text>
<text x="458.4" y="575.95" class="xl" text-anchor="middle" textLength="31" lengthAdjust="spacingAndGlyphs">no BTKi</text>
<text x="490.4" y="565.25" class="xl" text-anchor="middle">WM</text>
<text x="490.4" y="575.95" class="xl" text-anchor="middle">BTKi</text>
<text x="359.5" y="424.3" class="lt">I</text>
<text transform="translate(371.3 491.6) rotate(-90) scale(0.6539 1)" x="0" y="0" class="yl" text-anchor="middle" style="word-spacing:1.6px"><tspan class="b">A10 (mm) FIBTEM</tspan></text>
<path d="M426.5 511.5V527.5M421.3 511.5H431.7M421.3 527.5H431.7" stroke="#262626" stroke-width="1.05" fill="none"/>
<path d="M416 519.5H437" stroke="#333" stroke-width="1.05" fill="none"/>
<path d="M458.5 500.5V520.5M453.3 500.5H463.7M453.3 520.5H463.7" stroke="#262626" stroke-width="1.05" fill="none"/>
<path d="M448 510.5H469" stroke="#333" stroke-width="1.05" fill="none"/>
<path d="M490.5 504.5V519.5M485.3 504.5H495.7M485.3 519.5H495.7" stroke="#262626" stroke-width="1.05" fill="none"/>
<path d="M480 511.5H501" stroke="#333" stroke-width="1.05" fill="none"/>
<g fill="#1b4b80" stroke="#081a30" stroke-width="0.95">
<circle cx="425.8" cy="500.2" r="2.65"/>
<circle cx="425.8" cy="510.3" r="2.65"/>
<circle cx="423.4" cy="514.8" r="2.65"/>
<circle cx="429.5" cy="514.8" r="2.65"/>
<circle cx="419.1" cy="520.3" r="2.65"/>
<circle cx="425.2" cy="519.1" r="2.65"/>
<circle cx="431.3" cy="519.7" r="2.65"/>
<circle cx="434.3" cy="521.5" r="2.65"/>
<circle cx="417.3" cy="522.7" r="2.65"/>
<circle cx="422.2" cy="525.2" r="2.65"/>
<circle cx="428.2" cy="525.2" r="2.65"/>
<circle cx="432.5" cy="524.6" r="2.65"/>
<circle cx="423.4" cy="529.4" r="2.65"/>
<circle cx="428.2" cy="530" r="2.65"/>
</g>
<g fill="#c8102e" stroke="#5c0814" stroke-width="0.8">
<rect x="455.4" y="484.8" width="5.2" height="5.2"/>
<rect x="455.4" y="496" width="5.2" height="5.2"/>
<rect x="459.6" y="501.7" width="5.2" height="5.2"/>
<rect x="447.1" y="505.2" width="5.2" height="5.2"/>
<rect x="452.2" y="506.2" width="5.2" height="5.2"/>
<rect x="456" y="505.6" width="5.2" height="5.2"/>
<rect x="463.4" y="504.9" width="5.2" height="5.2"/>
<rect x="459.2" y="509.4" width="5.2" height="5.2"/>
<rect x="451.2" y="513.9" width="5.2" height="5.2"/>
<rect x="455.1" y="515.8" width="5.2" height="5.2"/>
<rect x="459.2" y="513.9" width="5.2" height="5.2"/>
<rect x="459.2" y="520.3" width="5.2" height="5.2"/>
<rect x="451.2" y="523.1" width="5.2" height="5.2"/>
</g>
<g fill="#3da63a" stroke="#175c17" stroke-width="0.8">
<rect x="483.5" y="499.1" width="5.2" height="5.2"/>
<rect x="491.2" y="502.8" width="5.2" height="5.2"/>
<rect x="479.1" y="515.6" width="5.2" height="5.2"/>
<rect x="486.9" y="513.9" width="5.2" height="5.2"/>
<rect x="495.6" y="514.3" width="5.2" height="5.2"/>
</g>
<path d="M426.1 493.5V456.4H458.9V480.1" fill="none" stroke="#1a1a1a" stroke-width="1.1"/>
<text x="442.5" y="451" class="pv" text-anchor="middle">0.0072</text>
<path d="M151.2 628.5V745.8H270.6" fill="none" stroke="#1a1a1a" stroke-width="1.3"/>
<path d="M148 727.7H151.2" stroke="#1a1a1a" stroke-width="1.1"/>
<text x="144.4" y="730.9" class="tk" text-anchor="end">0</text>
<path d="M148 695.63H151.2" stroke="#1a1a1a" stroke-width="1.1"/>
<text x="144.4" y="698.83" class="tk" text-anchor="end">50</text>
<path d="M148 663.57H151.2" stroke="#1a1a1a" stroke-width="1.1"/>
<text x="144.4" y="666.77" class="tk" text-anchor="end">100</text>
<path d="M148 631.5H151.2" stroke="#1a1a1a" stroke-width="1.1"/>
<text x="144.4" y="634.7" class="tk" text-anchor="end">150</text>
<path d="M184 745.8V749.2" stroke="#1a1a1a" stroke-width="1.1"/>
<path d="M216.2 745.8V749.2" stroke="#1a1a1a" stroke-width="1.1"/>
<path d="M248.2 745.8V749.2" stroke="#1a1a1a" stroke-width="1.1"/>
<text x="184" y="760.6" class="xl" text-anchor="middle">HD</text>
<text x="216.2" y="760.6" class="xl" text-anchor="middle">WM</text>
<text x="216.2" y="771.3" class="xl" text-anchor="middle" textLength="31" lengthAdjust="spacingAndGlyphs">no BTKi</text>
<text x="248.2" y="760.6" class="xl" text-anchor="middle">WM</text>
<text x="248.2" y="771.3" class="xl" text-anchor="middle">BTKi</text>
<text x="116.2" y="621.2" class="lt">J</text>
<text transform="translate(122.6 687.2) rotate(-90) scale(0.6241 1)" x="0" y="0" class="yl" text-anchor="middle" style="word-spacing:1.6px"><tspan class="b">CT (s) PLTEM</tspan></text>
<path d="M184.5 721.5V728.5M179.3 721.5H189.7M179.3 728.5H189.7" stroke="#262626" stroke-width="1.05" fill="none"/>
<path d="M174 724.5H195" stroke="#333" stroke-width="1.05" fill="none"/>
<path d="M216.5 721.5V728.5M211.3 721.5H221.7M211.3 728.5H221.7" stroke="#262626" stroke-width="1.05" fill="none"/>
<path d="M206 725.5H227" stroke="#333" stroke-width="1.05" fill="none"/>
<path d="M248.5 721.5V727.5M243.3 721.5H253.7M243.3 727.5H253.7" stroke="#262626" stroke-width="1.05" fill="none"/>
<path d="M238 724.5H259" stroke="#333" stroke-width="1.05" fill="none"/>
<g fill="#1b4b80" stroke="#081a30" stroke-width="0.95">
<circle cx="183.8" cy="717.8" r="2.65"/>
<circle cx="181.5" cy="720.7" r="2.65"/>
<circle cx="186.7" cy="720.7" r="2.65"/>
<circle cx="176.3" cy="725.8" r="2.65"/>
<circle cx="180.4" cy="725.3" r="2.65"/>
<circle cx="185" cy="725.3" r="2.65"/>
<circle cx="189.6" cy="724.7" r="2.65"/>
<circle cx="192.5" cy="725.8" r="2.65"/>
<circle cx="178.7" cy="729.9" r="2.65"/>
<circle cx="183.3" cy="728.7" r="2.65"/>
<circle cx="188.5" cy="729.9" r="2.65"/>
</g>
<g fill="#c8102e" stroke="#5c0814" stroke-width="0.8">
<rect x="206.9" y="718.1" width="5.2" height="5.2"/>
<rect x="216.4" y="717.5" width="5.2" height="5.2"/>
<rect x="204.9" y="723.2" width="5.2" height="5.2"/>
<rect x="209.5" y="722.7" width="5.2" height="5.2"/>
<rect x="214.1" y="723.2" width="5.2" height="5.2"/>
<rect x="218.2" y="722.1" width="5.2" height="5.2"/>
<rect x="221.6" y="722.1" width="5.2" height="5.2"/>
<rect x="210.1" y="728.4" width="5.2" height="5.2"/>
<rect x="214.7" y="726.7" width="5.2" height="5.2"/>
</g>
<g fill="#3da63a" stroke="#175c17" stroke-width="0.8">
<rect x="237.2" y="719.2" width="5.2" height="5.2"/>
<rect x="242.4" y="719.2" width="5.2" height="5.2"/>
<rect x="237.2" y="725.6" width="5.2" height="5.2"/>
<rect x="248.2" y="725" width="5.2" height="5.2"/>
<rect x="253.4" y="720.9" width="5.2" height="5.2"/>
</g>
<path d="M325.2 628.5V745.8H444.6" fill="none" stroke="#1a1a1a" stroke-width="1.3"/>
<path d="M322 734.4H325.2" stroke="#1a1a1a" stroke-width="1.1"/>
<text x="318.4" y="737.6" class="tk" text-anchor="end">0</text>
<path d="M322 713.82H325.2" stroke="#1a1a1a" stroke-width="1.1"/>
<text x="318.4" y="717.02" class="tk" text-anchor="end">50</text>
<path d="M322 693.24H325.2" stroke="#1a1a1a" stroke-width="1.1"/>
<text x="318.4" y="696.44" class="tk" text-anchor="end">100</text>
<path d="M322 672.66H325.2" stroke="#1a1a1a" stroke-width="1.1"/>
<text x="318.4" y="675.86" class="tk" text-anchor="end">150</text>
<path d="M322 652.08H325.2" stroke="#1a1a1a" stroke-width="1.1"/>
<text x="318.4" y="655.28" class="tk" text-anchor="end">200</text>
<path d="M322 631.5H325.2" stroke="#1a1a1a" stroke-width="1.1"/>
<text x="318.4" y="634.7" class="tk" text-anchor="end">250</text>
<path d="M358 745.8V749.2" stroke="#1a1a1a" stroke-width="1.1"/>
<path d="M390.2 745.8V749.2" stroke="#1a1a1a" stroke-width="1.1"/>
<path d="M422.2 745.8V749.2" stroke="#1a1a1a" stroke-width="1.1"/>
<text x="358" y="760.6" class="xl" text-anchor="middle">HD</text>
<text x="390.2" y="760.6" class="xl" text-anchor="middle">WM</text>
<text x="390.2" y="771.3" class="xl" text-anchor="middle" textLength="31" lengthAdjust="spacingAndGlyphs">no BTKi</text>
<text x="422.2" y="760.6" class="xl" text-anchor="middle">WM</text>
<text x="422.2" y="771.3" class="xl" text-anchor="middle">BTKi</text>
<text x="288.6" y="621.5" class="lt">K</text>
<text transform="translate(296.3 687.1) rotate(-90) scale(0.6247 1)" x="0" y="0" class="yl" text-anchor="middle" style="word-spacing:1.6px"><tspan class="b">MCE PLTEM</tspan></text>
<path d="M358.5 663.5V687.5M353.3 663.5H363.7M353.3 687.5H363.7" stroke="#262626" stroke-width="1.05" fill="none"/>
<path d="M348 675.5H369" stroke="#333" stroke-width="1.05" fill="none"/>
<path d="M390.5 666.5V694.5M385.3 666.5H395.7M385.3 694.5H395.7" stroke="#262626" stroke-width="1.05" fill="none"/>
<path d="M380 680.5H401" stroke="#333" stroke-width="1.05" fill="none"/>
<path d="M422.5 647.5V686.5M417.3 647.5H427.7M417.3 686.5H427.7" stroke="#262626" stroke-width="1.05" fill="none"/>
<path d="M412 666.5H433" stroke="#333" stroke-width="1.05" fill="none"/>
<g fill="#1b4b80" stroke="#081a30" stroke-width="0.95">
<circle cx="358" cy="646.1" r="2.65"/>
<circle cx="352.7" cy="659.2" r="2.65"/>
<circle cx="358" cy="661.5" r="2.65"/>
<circle cx="365.3" cy="663" r="2.65"/>
<circle cx="349.6" cy="667.3" r="2.65"/>
<circle cx="355.4" cy="666.9" r="2.65"/>
<circle cx="360" cy="668" r="2.65"/>
<circle cx="365.7" cy="670.3" r="2.65"/>
<circle cx="350" cy="674.9" r="2.65"/>
<circle cx="355.4" cy="673" r="2.65"/>
<circle cx="360.7" cy="674.6" r="2.65"/>
<circle cx="365.7" cy="676.9" r="2.65"/>
<circle cx="352.7" cy="681.5" r="2.65"/>
<circle cx="359.2" cy="679.2" r="2.65"/>
<circle cx="352.7" cy="687.6" r="2.65"/>
<circle cx="357.7" cy="686.9" r="2.65"/>
<circle cx="362.7" cy="688" r="2.65"/>
<circle cx="355.4" cy="693" r="2.65"/>
<circle cx="360.4" cy="692.2" r="2.65"/>
<circle cx="354.6" cy="695.3" r="2.65"/>
<circle cx="362.5" cy="665.5" r="2.65"/>
<circle cx="357" cy="677" r="2.65"/>
<circle cx="363" cy="682" r="2.65"/>
<circle cx="350.5" cy="684.5" r="2.65"/>
</g>
<g fill="#c8102e" stroke="#5c0814" stroke-width="0.8">
<rect x="391.3" y="655" width="5.2" height="5.2"/>
<rect x="387.3" y="656.9" width="5.2" height="5.2"/>
<rect x="382.9" y="659.7" width="5.2" height="5.2"/>
<rect x="387.7" y="665.3" width="5.2" height="5.2"/>
<rect x="383.7" y="676.4" width="5.2" height="5.2"/>
<rect x="379.3" y="680.8" width="5.2" height="5.2"/>
<rect x="385.3" y="680.8" width="5.2" height="5.2"/>
<rect x="391.7" y="680" width="5.2" height="5.2"/>
<rect x="395.6" y="680.8" width="5.2" height="5.2"/>
<rect x="383.3" y="685.6" width="5.2" height="5.2"/>
<rect x="390.9" y="684.8" width="5.2" height="5.2"/>
<rect x="387.3" y="689.5" width="5.2" height="5.2"/>
<rect x="391.7" y="688.3" width="5.2" height="5.2"/>
<rect x="387.3" y="704.2" width="5.2" height="5.2"/>
</g>
<g fill="#3da63a" stroke="#175c17" stroke-width="0.8">
<rect x="419.3" y="640.5" width="5.2" height="5.2"/>
<rect x="419.3" y="647.4" width="5.2" height="5.2"/>
<rect x="419.7" y="671.9" width="5.2" height="5.2"/>
<rect x="411.6" y="681.5" width="5.2" height="5.2"/>
<rect x="427.3" y="680.4" width="5.2" height="5.2"/>
</g>
<rect x="0.5" y="0.5" width="519" height="780" fill="none" stroke="#454545" stroke-width="1"/>
</svg></body></html>
